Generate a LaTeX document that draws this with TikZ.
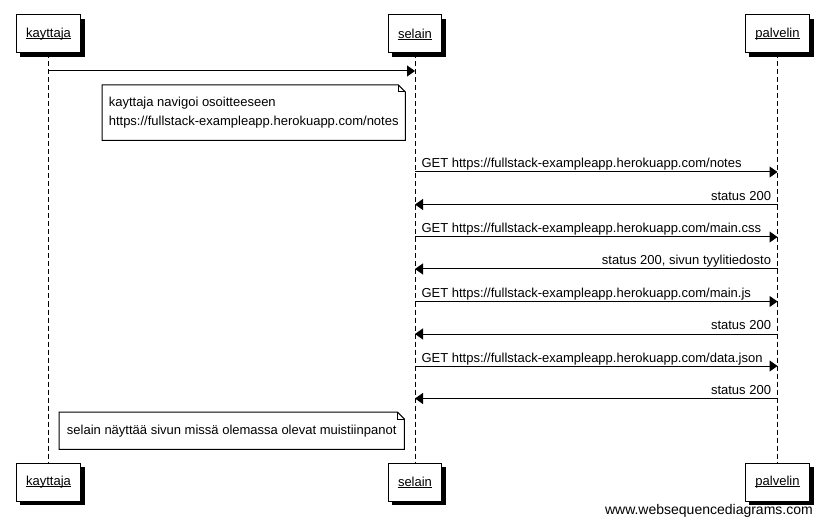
\documentclass[tikz,border=0pt]{standalone}
\usepackage{fontspec}
\setmainfont{Liberation Sans}
\usepackage{tikz}
\usetikzlibrary{arrows.meta, positioning, shadows}

\tikzstyle{actor} = [rectangle, draw=black, fill=white, line width=1pt, minimum height=38pt, inner xsep=10pt, font=\fontsize{13}{15}\selectfont, drop shadow={shadow xshift=4pt, shadow yshift=-4pt, fill=black, opacity=1}]
\tikzstyle{lifeline} = [line width=1pt, dash pattern=on 5pt off 3pt]
\tikzstyle{arrow} = [line width=1pt, -{Triangle[length=8pt, width=11pt]}]
\tikzstyle{msg} = [inner sep=0pt, font=\fontsize{13}{15}\selectfont]
\tikzstyle{note} = [rectangle, align=left, inner sep=0pt, anchor=north west, font=\fontsize{13}{18.5}\selectfont]
\tikzstyle{uline} = [line width=1pt, shorten >=10pt, shorten <=10pt]
\newcommand{\notefold}[1]{%
  \draw[line width=1pt] (#1.south west) -- (#1.north west) -- ([xshift=-7pt]#1.north east) -- ([yshift=-7pt]#1.north east) -- (#1.south east) -- cycle;
  \draw[line width=1pt] ([xshift=-7pt]#1.north east) |- ([yshift=-7pt]#1.north east);}
\newcommand{\underl}[1]{\draw[uline] ([yshift=-1.2pt]#1.base west) -- ([yshift=-1.2pt]#1.base east);}

\begin{document}
\begin{tikzpicture}[x=1pt, y=-1pt]
\useasboundingbox (0,0) rectangle (823,524);

% participants
\node (kayttaja) [actor] at (48.5,34) {kayttaja};
\node (selain) [actor] at (415,34) {selain};
\node (palvelin) [actor] at (777.5,34) {palvelin};
\node (kayttaja2) [actor, below=409pt of kayttaja] {kayttaja};
\node (selain2) [actor, below=409pt of selain] {selain};
\node (palvelin2) [actor, below=409pt of palvelin] {palvelin};
\underl{kayttaja} \underl{selain} \underl{palvelin}
\underl{kayttaja2} \underl{selain2} \underl{palvelin2}

\draw [lifeline] (kayttaja) -- (kayttaja2);
\draw [lifeline] (selain) -- (selain2);
\draw [lifeline] (palvelin) -- (palvelin2);

% message points
\coordinate (k0) at (kayttaja |- 0,71);
\coordinate (s0) at (selain |- 0,71);
\coordinate (s1) at (selain |- 0,172);
\coordinate (p1) at (palvelin |- 0,172);
\coordinate (s2) at (selain |- 0,204.5);
\coordinate (p2) at (palvelin |- 0,204.5);
\coordinate (s3) at (selain |- 0,237);
\coordinate (p3) at (palvelin |- 0,237);
\coordinate (s4) at (selain |- 0,269);
\coordinate (p4) at (palvelin |- 0,269);
\coordinate (s5) at (selain |- 0,301.5);
\coordinate (p5) at (palvelin |- 0,301.5);
\coordinate (s6) at (selain |- 0,334);
\coordinate (p6) at (palvelin |- 0,334);
\coordinate (s7) at (selain |- 0,366);
\coordinate (p7) at (palvelin |- 0,366);
\coordinate (s8) at (selain |- 0,398.5);
\coordinate (p8) at (palvelin |- 0,398.5);

\draw [arrow] (k0) -- (s0);
\draw [arrow] (s1) -- (p1) node[msg, pos=0, anchor=base west, xshift=6pt, yshift=4pt] {GET https://fullstack-exampleapp.herokuapp.com/notes};
\draw [arrow] (p2) -- (s2) node[msg, pos=0, anchor=base east, xshift=-6pt, yshift=4pt] {status 200};
\draw [arrow] (s3) -- (p3) node[msg, pos=0, anchor=base west, xshift=6pt, yshift=4pt] {GET https://fullstack-exampleapp.herokuapp.com/main.css};
\draw [arrow] (p4) -- (s4) node[msg, pos=0, anchor=base east, xshift=-6pt, yshift=4pt] {status 200, sivun tyylitiedosto};
\draw [arrow] (s5) -- (p5) node[msg, pos=0, anchor=base west, xshift=6pt, yshift=4pt] {GET https://fullstack-exampleapp.herokuapp.com/main.js};
\draw [arrow] (p6) -- (s6) node[msg, pos=0, anchor=base east, xshift=-6pt, yshift=4pt] {status 200};
\draw [arrow] (s7) -- (p7) node[msg, pos=0, anchor=base west, xshift=6pt, yshift=4pt] {GET https://fullstack-exampleapp.herokuapp.com/data.json};
\draw [arrow] (p8) -- (s8) node[msg, pos=0, anchor=base east, xshift=-6pt, yshift=4pt] {status 200};

% notes
\node (note1) [note, minimum width=303pt, minimum height=55pt] at (102,85) {kayttaja navigoi osoitteeseen\\https://fullstack-exampleapp.herokuapp.com/notes};
\notefold{note1}
\node (note2) [note, minimum width=345pt, minimum height=37pt] at (59,412) {selain näyttää sivun missä olemassa olevat muistiinpanot};
\notefold{note2}

\node (wsd) [anchor=base east, inner sep=0pt, font=\fontsize{14}{16}\selectfont] at (813,514) {www.websequencediagrams.com};

\end{tikzpicture}
\end{document}
